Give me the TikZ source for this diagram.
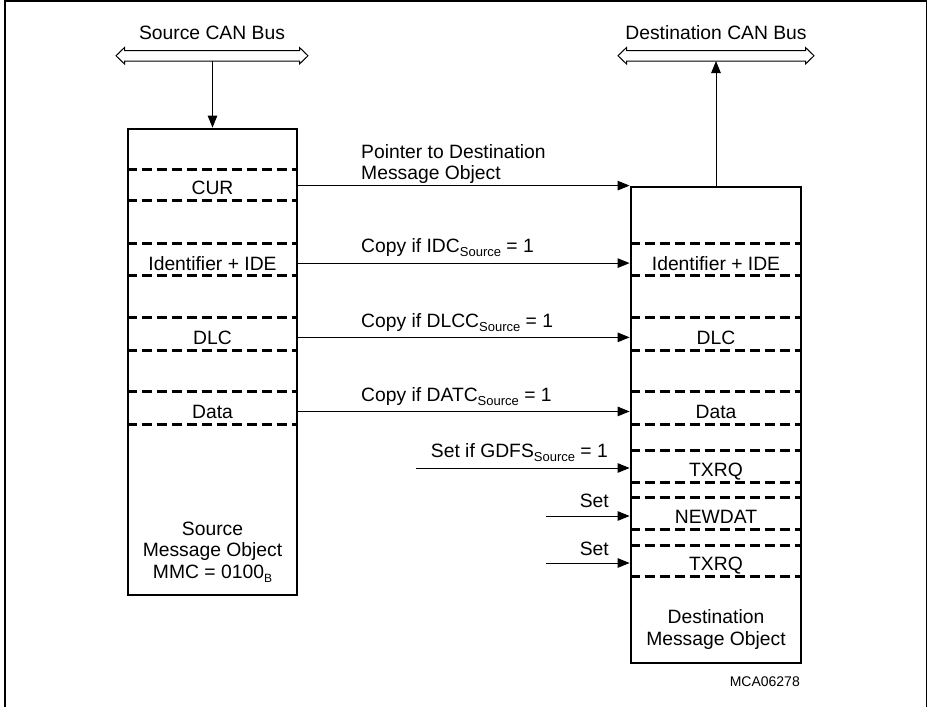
\documentclass[tikz,border=0pt]{standalone}
\usepackage{fontspec}
\setmainfont{Liberation Sans}
\usetikzlibrary{arrows.meta}
\newcommand\subsrc[1]{\raisebox{-4.5pt}{\fontsize{13}{13}\selectfont #1}}
\newcommand\subB[1]{\raisebox{-4pt}{\fontsize{12}{12}\selectfont #1}}
\begin{document}
\begin{tikzpicture}[x=1pt,y=-1pt,
  font=\fontsize{19.3}{21.5}\selectfont,
  msgbox/.style={draw, line width=2.8pt, inner sep=0pt},
  fld/.style={inner sep=0pt, anchor=base},
  dsh/.style={line width=2.8pt, dash pattern=on 10pt off 5pt},
  arr/.style={line width=1pt, -{Triangle[length=12pt,width=9.5pt]}},
  lbl/.style={inner sep=0pt, anchor=base west},
  lblr/.style={inner sep=0pt, anchor=base east},
  busline/.style={line width=1pt, line join=miter},
  frame/.style={line width=1.3pt}
]
\useasboundingbox (0,0) rectangle (928,707);
% outer frame
\draw[frame] (5,707) -- (5,1) -- (926.5,1) -- (926.5,707);

% buses
\begin{scope}[shift={(212,0)}]
  \draw[busline] (-96,55.75) -- (-87.5,47.5) -- (-87.5,50.5) -- (87.5,50.5) -- (87.5,47.5) -- (96,55.75) -- (87.5,64) -- (87.5,61) -- (-87.5,61) -- (-87.5,64) -- cycle;
\end{scope}
\begin{scope}[shift={(716,0)}]
  \draw[busline] (-98,55.75) -- (-89.5,47.5) -- (-89.5,50.5) -- (89.5,50.5) -- (89.5,47.5) -- (98,55.75) -- (89.5,64) -- (89.5,61) -- (-89.5,61) -- (-89.5,64) -- cycle;
\end{scope}
\node[fld] (srcbuslbl) at (212,39.3) {Source CAN Bus};
\node[fld] (dstbuslbl) at (716,39.3) {Destination CAN Bus};
\coordinate (srcbus) at (212.5,61);
\coordinate (dstbus) at (716,61);

% boxes
\node[msgbox, minimum width=169pt, minimum height=466pt] (src) at (212.5,362) {};
\node[msgbox, minimum width=170pt, minimum height=476pt] (dst) at (716,425) {};

% dashed separators
\foreach \d in {42,73,116,148,190,223,264,297}
  \draw[dsh] ([yshift=-\d pt]src.north west) -- ([yshift=-\d pt]src.north east);
\foreach \d in {58,90,132,165,206,239,265,297,312,344,360,391}
  \draw[dsh] ([yshift=-\d pt]dst.north west) -- ([yshift=-\d pt]dst.north east);

% source fields
\node[fld] (scur) at (212.5,194) {CUR};
\node[fld] (sid) at (212.5,270) {Identifier + IDE};
\node[fld] (sdlc) at (212.5,344) {DLC};
\node[fld] (sdata) at (212.5,418) {Data};
\node[inner sep=0pt, align=center, anchor=base] (stitle) at (212.5,578) {Source\\Message Object\\MMC = 0100\subB{B}};

% destination fields
\node[fld] (did) at (716,270) {Identifier + IDE};
\node[fld] (ddlc) at (716,344) {DLC};
\node[fld] (ddata) at (716,418) {Data};
\node[fld] (dtx1) at (716,476) {TXRQ};
\node[fld] (dnew) at (716,523) {NEWDAT};
\node[fld] (dtx2) at (716,570.7) {TXRQ};
\node[inner sep=0pt, align=center, anchor=base] (dtitle) at (716,645) {Destination\\Message Object};
\node[lblr, font=\fontsize{14}{16}\selectfont] (code) at (800,686) {MCA06278};

% bus connectors
\draw[arr] (srcbus) -- (src.north);
\draw[arr] (dst.north) -- (dstbus);

% horizontal connectors
\draw[arr] (src.east |- dst.north) -- (dst.north west);
\draw[arr] (src.east |- sid) -- (dst.west |- sid);
\draw[arr] (src.east |- sdlc) -- (dst.west |- sdlc);
\draw[arr] (src.east |- sdata) -- (dst.west |- sdata);

\coordinate (gdfs) at (416,468);
\coordinate (set1) at (546,516);
\coordinate (set2) at (546,563);
\draw[arr] (gdfs) -- (dst.west |- gdfs);
\draw[arr] (set1) -- (dst.west |- set1);
\draw[arr] (set2) -- (dst.west |- set2);

% connector labels
\node[inner sep=0pt, align=left, anchor=south west] (ptr) at (361,184) {Pointer to Destination\\Message Object};
\node[lbl] (cidc) at (361,252) {Copy if IDC\subsrc{Source} = 1};
\node[lbl] (cdlc) at (361,327) {Copy if DLCC\subsrc{Source} = 1};
\node[lbl] (cdat) at (361,401) {Copy if DATC\subsrc{Source} = 1};
\node[lblr] (sgdfs) at (608,457) {Set if GDFS\subsrc{Source} = 1};
\node[lblr] (sset1) at (609,507) {Set};
\node[lblr] (sset2) at (609,555) {Set};
\end{tikzpicture}
\end{document}
